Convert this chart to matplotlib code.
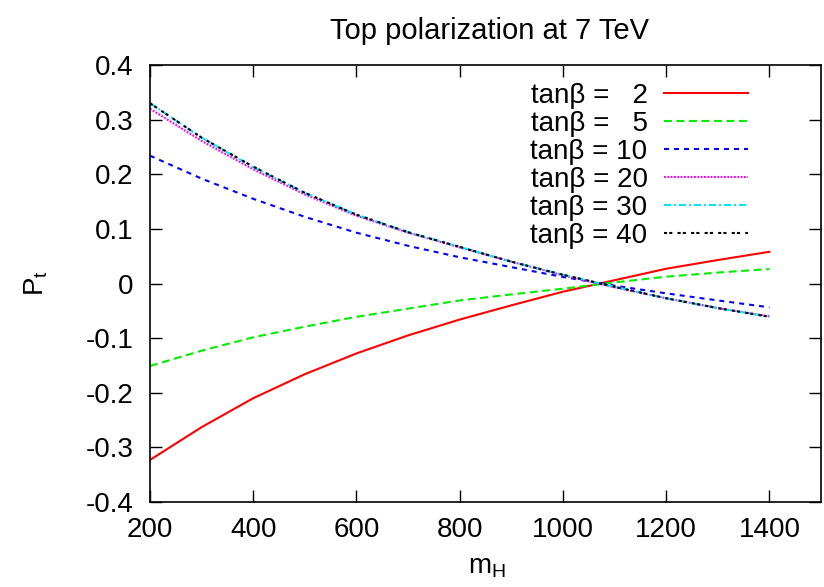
import matplotlib
matplotlib.use('Agg')
import matplotlib.pyplot as plt
from matplotlib.ticker import FuncFormatter, MultipleLocator

plt.rcParams['font.family'] = ['Liberation Sans', 'DejaVu Sans']
plt.rcParams['axes.unicode_minus'] = False

# Higgs mass grid (GeV) and top polarization for each tan(beta)
m_h = [200, 300, 400, 500, 600, 700, 800, 900, 1000, 1100, 1200, 1300, 1400]
pt_tb2 = [-0.323, -0.263, -0.210, -0.166, -0.128, -0.095, -0.066, -0.040,
          -0.015, 0.006, 0.027, 0.043, 0.058]
pt_tb5 = [-0.151, -0.123, -0.0985, -0.079, -0.061, -0.046, -0.031, -0.020,
          -0.0095, 0.002, 0.0125, 0.020, 0.0265]
pt_tb10 = [0.234, 0.192, 0.155, 0.122, 0.093, 0.069, 0.048, 0.030,
           0.012, -0.004, -0.018, -0.031, -0.0436]
pt_tb20 = [0.320, 0.261, 0.209, 0.163, 0.124, 0.093, 0.066, 0.040,
           0.015, -0.007, -0.027, -0.045, -0.060]
pt_tb30 = [0.330, 0.267, 0.213, 0.166, 0.126, 0.094, 0.067, 0.040,
           0.016, -0.006, -0.027, -0.045, -0.061]
pt_tb40 = [0.330, 0.267, 0.214, 0.166, 0.126, 0.094, 0.067, 0.040,
           0.016, -0.006, -0.027, -0.045, -0.061]

labels = ['tan\u03b2 = \u20072', 'tan\u03b2 = \u20075', 'tan\u03b2 = 10',
          'tan\u03b2 = 20', 'tan\u03b2 = 30', 'tan\u03b2 = 40']
series = [pt_tb2, pt_tb5, pt_tb10, pt_tb20, pt_tb30, pt_tb40]
colors = ['#ff0000', '#00ee00', '#0000ff', '#ff00ff', '#00e5ff', '#000000']
styles = ['-', (0, (3.8, 2.2)), (0, (2.4, 2.4)), (0, (0.9, 0.7)),
          (0, (3.4, 1.4, 1.0, 1.4)), (0, (1.5, 1.0, 1.5, 2.5))]

fig = plt.figure(figsize=(8.24, 5.87), dpi=100)
ax = fig.add_axes([150 / 824, 1 - 502 / 587, 671 / 824, 437 / 587])

for y, lab, c, ls in zip(series, labels, colors, styles):
    ax.plot(m_h, y, color=c, linestyle=ls, linewidth=1.5, label=lab)

ax.set_xlim(200, 1500)
ax.set_ylim(-0.4, 0.4)
ax.xaxis.set_major_locator(MultipleLocator(200))
ax.yaxis.set_major_locator(MultipleLocator(0.1))
ax.xaxis.set_major_formatter(FuncFormatter(lambda v, p: '%d' % v if v <= 1400 else ''))
ax.yaxis.set_major_formatter(FuncFormatter(lambda v, p: '0' if abs(v) < 1e-9 else '%.1f' % v))

ax.tick_params(direction='in', length=8.6, width=1, top=True, right=True,
               labelsize=20)
ax.tick_params(axis='x', pad=11)
ax.tick_params(axis='y', pad=12)
for s in ax.spines.values():
    s.set_linewidth(1.2)

fig.text(490 / 824, 1 - 39 / 587, 'Top polarization at 7 TeV', fontsize=21,
         ha='center', va='baseline')
fig.text(487 / 824, 1 - 574 / 587, r'$\mathregular{m_H}$', fontsize=20,
         ha='center', va='baseline')
fig.text(36 / 824, 1 - 283 / 587, r'$\mathregular{P_t}$', fontsize=20,
         ha='center', va='center', rotation=90)

ax.legend(loc='upper right', bbox_to_anchor=(0.8906, 0.959), frameon=False,
          markerfirst=False, fontsize=20, handlelength=3.0, handletextpad=0.6,
          labelspacing=0.07, borderpad=0, borderaxespad=0)

fig.savefig('out.png', dpi=100)
